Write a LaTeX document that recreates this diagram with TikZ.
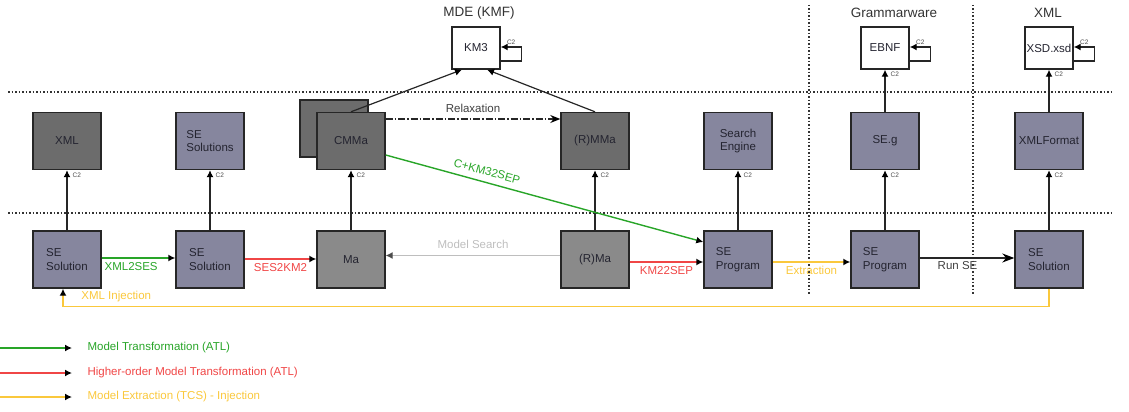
\documentclass[tikz,border=0pt]{standalone}
\usepackage{fontspec}
\setmainfont{Liberation Sans}
\usepackage{tikz}
\usetikzlibrary{arrows.meta}

\definecolor{darkbox}{RGB}{108,108,108}
\definecolor{bluebox}{RGB}{134,134,158}
\definecolor{graybox}{RGB}{138,138,138}
\definecolor{boxtext}{RGB}{36,36,48}
\definecolor{atlgreen}{RGB}{40,165,40}
\definecolor{hotred}{RGB}{240,70,70}
\definecolor{tcsyellow}{RGB}{250,200,60}
\definecolor{searchgray}{RGB}{190,190,190}

\begin{document}
\begin{tikzpicture}[x=1pt, y=-1pt,
    box/.style={draw=black!85, line width=1.4pt, minimum width=68pt, minimum height=57pt, inner sep=1pt, align=left, text=boxtext, font=\fontsize{11.5}{13.5}\selectfont},
    topbox/.style={box, fill=white, minimum width=48pt, minimum height=42pt, inner sep=0pt},
    title/.style={text=black!80, font=\fontsize{13.5}{15}\selectfont},
    lbl/.style={font=\fontsize{11.5}{13.5}\selectfont},
    ctwo/.style={text=black!70, font=\fontsize{6.5}{7}\selectfont, inner sep=1pt},
    conf/.style={draw=black!85, line width=1.2pt, -{Latex[color=black, length=7pt, width=7pt]}},
    atl/.style={draw=atlgreen, line width=1.4pt, -{Latex[color=black, length=7pt, width=7pt]}},
    hot/.style={draw=hotred, line width=1.4pt, -{Latex[color=black, length=7pt, width=7pt]}},
    tcs/.style={draw=tcsyellow, line width=1.4pt, -{Latex[color=black, length=7pt, width=7pt]}},
    sep/.style={draw=black!80, line width=1.1pt, dash pattern=on 1.5pt off 2pt}]
  \useasboundingbox (0,0) rectangle (1129,412);

  % technical spaces
  \draw[sep] (8,92) -- (1114,92);
  \draw[sep] (8,213) -- (1114,213);
  \draw[sep] (809,5) -- (809,295);
  \draw[sep] (973,5) -- (973,295);

  \node[title] (mdeT) at (479,13) {MDE (KMF)};
  \node[title] (gramT) at (894,13) {Grammarware};
  \node[title] (xmlT) at (1048,13) {XML};

  % meta-metamodels
  \node[topbox] (km3) at (476,48) {KM3};
  \node[topbox] (ebnf) at (885,48) {EBNF};
  \node[topbox] (xsd) at (1049,48) {XSD.xsd};

  % metamodels
  \node[box, fill=darkbox] (xmlM) at (67,141) {XML};
  \node[box, fill=bluebox] (sesM) at (210,141) {SE\\Solutions};
  \node[box, fill=darkbox] (cmmaBack) at (334,128.5) {};
  \node[box, fill=darkbox] (cmma) at (351,141) {CMMa};
  \node[box, fill=darkbox] (rmma) at (595,141) {(R)MMa};
  \node[box, fill=bluebox, align=center] (seng) at (738,141) {Search\\Engine};
  \node[box, fill=bluebox] (seg) at (885,141) {SE.g};
  \node[box, fill=bluebox] (xmlf) at (1049,141) {XMLFormat};

  % models
  \node[box, fill=bluebox] (sol1) at (67,259.5) {SE\\Solution};
  \node[box, fill=bluebox] (sol2) at (210,259.5) {SE\\Solution};
  \node[box, fill=graybox] (ma) at (351,259.5) {Ma};
  \node[box, fill=graybox] (rma) at (595,259.5) {(R)Ma};
  \node[box, fill=bluebox] (prog1) at (738,259.5) {SE\\Program};
  \node[box, fill=bluebox] (prog2) at (885,259.5) {SE\\Program};
  \node[box, fill=bluebox] (sol3) at (1049,259.5) {SE\\Solution};

  % conformance
  \foreach \m/\mm in {sol1/xmlM, sol2/sesM, ma/cmma, rma/rmma, prog1/seng, prog2/seg, sol3/xmlf, seg/ebnf, xmlf/xsd}
    \draw[conf] (\m) -- (\mm) node[ctwo, pos=1, anchor=north west, xshift=4pt, yshift=-1pt] {C2};
  \foreach \mm in {km3, ebnf, xsd}
    \draw[conf] ([yshift=-13pt]\mm.east) -- ++(21,0) |- ([yshift=1pt]\mm.east) node[ctwo, pos=0.75, above=1pt] {C2};
  \draw[conf] (cmma.north) -- ([xshift=-14pt]km3.south);
  \draw[conf] (rmma.north) -- ([xshift=11pt]km3.south);

  \draw[draw=black!85, line width=1.2pt, dash pattern=on 7pt off 2pt on 1.5pt off 2pt, -{Stealth[color=black, length=10pt, width=8pt]}]
    ([yshift=22pt]cmma.east) -- ([yshift=22pt]rmma.west) node[lbl, midway, above=2pt, text=black!75] {Relaxation};
  \draw[atl] ([yshift=-14pt]cmma.east) -- ([yshift=17.5pt]prog1.west) node[lbl, pos=0.31, above=3pt, sloped, text=atlgreen] {C+KM32SEP};

  % transformations
  \draw[atl] ([yshift=1.5pt]sol1.east) -- ([yshift=1.5pt]sol2.west) node[lbl, pos=0.4, below, text=atlgreen] {XML2SES};
  \draw[hot] ([yshift=0.5pt]sol2.east) -- ([yshift=0.5pt]ma.west) node[lbl, midway, below, text=hotred] {SES2KM2};
  \draw[draw=searchgray, line width=1pt, -{Latex[color=black!70, length=7pt, width=7pt]}]
    ([yshift=4pt]rma.west) -- ([yshift=4pt]ma.east) node[lbl, midway, above=3pt, text=searchgray] {Model Search};
  \draw[hot] ([yshift=-2.5pt]rma.east) -- ([yshift=-2.5pt]prog1.west) node[lbl, midway, below, text=hotred] {KM22SEP};
  \draw[tcs] ([yshift=-2.5pt]prog1.east) -- ([yshift=-2.5pt]prog2.west) node[lbl, midway, below, text=tcsyellow] {Extraction};
  \draw[draw=black!85, line width=1.2pt, -{Stealth[color=black, length=12pt, width=9pt]}]
    ([yshift=1.5pt]prog2.east) -- ([yshift=1.5pt]sol3.west) node[lbl, pos=0.4, below, text=black!75] {Run SE};
  \draw[tcs] (sol3.south) -- ++(0,18) -| node[lbl, pos=0.473, above=1pt, text=tcsyellow] {XML Injection} ([xshift=-4pt]sol1.south);

  % legend
  \node[lbl, anchor=west, text=atlgreen] (lgAtl) at (84,348) {Model Transformation (ATL)};
  \node[lbl, anchor=west, text=hotred] (lgHot) at (84,373) {Higher-order Model Transformation (ATL)};
  \node[lbl, anchor=west, text=tcsyellow] (lgTcs) at (84,397) {Model Extraction (TCS) - Injection};
  \coordinate (lgAtl0) at (0,348);
  \coordinate (lgHot0) at (0,373);
  \coordinate (lgTcs0) at (0,397);
  \draw[atl] (lgAtl0) -- ([xshift=-12pt]lgAtl.west);
  \draw[hot] (lgHot0) -- ([xshift=-12pt]lgHot.west);
  \draw[tcs] (lgTcs0) -- ([xshift=-12pt]lgTcs.west);
\end{tikzpicture}
\end{document}
